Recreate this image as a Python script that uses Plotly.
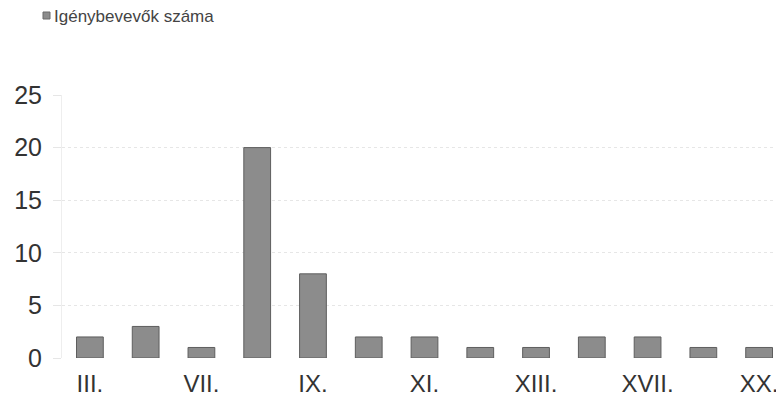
import plotly.graph_objects as go

categories = ["III.", "IV.", "VII.", "VIII.", "IX.", "X.", "XI.", "XII.", "XIII.", "XV.", "XVII.", "XVIII.", "XX."]
values = [2, 3, 1, 20, 8, 2, 2, 1, 1, 2, 2, 1, 1]
shown_labels = ["III.", "VII.", "IX.", "XI.", "XIII.", "XVII.", "XX."]
series_name = "Igénybevevők száma"
y_ticks = [0, 5, 10, 15, 20, 25]

BAR_COLOR = "#8c8c8c"
FIG_W, FIG_H = 784, 408
L, R, T, B = 54, 5, 87, 58
PW, PH = FIG_W - L - R, FIG_H - T - B


def px_x(x):
    return (x - L) / PW


def px_y(y):
    return 1 + (T - y) / PH


fig = go.Figure()
fig.add_trace(go.Bar(
    x=categories, y=values, name=series_name,
    marker=dict(color=BAR_COLOR, line=dict(color="#5e5e5e", width=1)),
    showlegend=False,
))

# legend drawn as a swatch + text
fig.add_shape(type="rect", xref="paper", yref="paper",
              x0=px_x(35), x1=px_x(42), y0=px_y(11), y1=px_y(4),
              fillcolor=BAR_COLOR, line=dict(color="#6a6a6a", width=1))
fig.add_annotation(xref="paper", yref="paper", x=px_x(44), y=px_y(8),
                   xanchor="left", yanchor="middle", showarrow=False,
                   text=series_name, font=dict(size=17, color="#444444"))

fig.update_layout(
    width=FIG_W, height=FIG_H,
    margin=dict(l=L, r=R, t=T, b=B, autoexpand=False),
    paper_bgcolor="white", plot_bgcolor="white",
    font=dict(family="Liberation Sans, Arial, sans-serif", color="#333333"),
    bargap=0.52,
    showlegend=False,
    xaxis=dict(
        type="category",
        tickmode="array", tickvals=shown_labels, ticktext=shown_labels,
        tickfont=dict(size=24, color="#333333"),
        showgrid=False, showline=False, zeroline=False,
        ticks="", ticklabelstandoff=9,
        range=[-0.5, 12.5],
    ),
    yaxis=dict(
        range=[0, 25],
        tickmode="array", tickvals=y_ticks,
        tickfont=dict(size=25, color="#333333"),
        showgrid=True, gridcolor="#e6e6e6", gridwidth=1, griddash="dot",
        zeroline=False, showline=True, linecolor="#eeeeee",
        ticks="outside", ticklen=8, tickcolor="#e6e6e6",
        ticklabelstandoff=6,
    ),
)

fig.write_html("out.html")
